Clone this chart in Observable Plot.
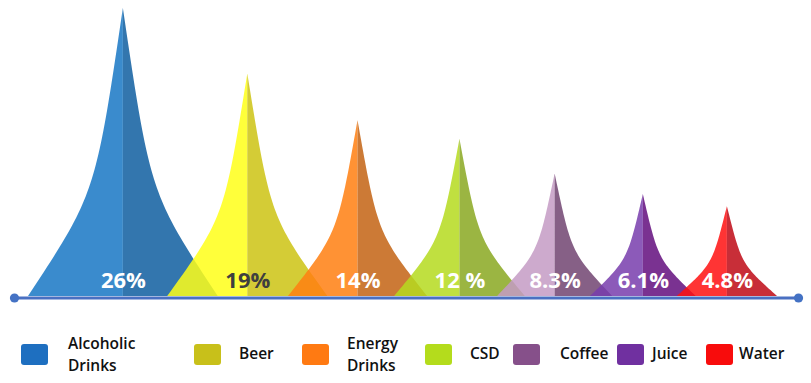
<!DOCTYPE html>
<html>
<head>
<meta charset="utf-8">
<script src="https://cdn.jsdelivr.net/npm/d3@7"></script>
<script src="https://cdn.jsdelivr.net/npm/@observablehq/plot@0.6"></script>
<style>
  html, body { margin: 0; padding: 0; background: #ffffff; }
  #wrap { width: 811px; height: 383px; position: relative; overflow: hidden; font-family: "Open Sans", sans-serif; }
  #legend { position: relative; width: 811px; height: 73px; }
  .sw { position: absolute; width: 27px; height: 21px; border-radius: 3px; top: 34px; }
  .lt { position: absolute; top: 44px; transform: translateY(-50%); font-size: 15.5px; font-weight: 600; line-height: 21.5px; color: #111; white-space: nowrap; }
</style>
</head>
<body>
<div id="wrap">
  <div id="chart"></div>
  <div id="legend"></div>
</div>
<script>
// ---------- data ----------
const categories = ["Alcoholic Drinks", "Beer", "Energy Drinks", "CSD", "Coffee", "Juice", "Water"];
const shares = [26, 19, 14, 12, 8.3, 6.1, 4.8];
const labels = ["26%", "19%", "14%", "12 %", "8.3%", "6.1%", "4.8%"];

// ---------- styles ----------
const lightColors = ["#3a8bcd", "#ffff3a", "#ff9235", "#c0e040", "#cdaacd", "#8c5ab9", "#ff3434"];
const darkColors  = ["#3376ae", "#d4cc36", "#cc7a36", "#9bb542", "#866086", "#7a3291", "#c82e38"];
const legendColors = ["#1e6fc0", "#c8c01a", "#ff7a12", "#b4dc1c", "#86508a", "#7030a0", "#f80c0c"];
const labelColors = ["#ffffff", "#3f3f3f", "#ffffff", "#ffffff", "#ffffff", "#ffffff", "#ffffff"];
const legendSwatchX = [21, 194, 302, 425, 513, 617, 706];
const legendTextX = [68, 239, 347, 470, 560, 652, 739];
const alpha = 0.85;

// colour that shows the target colour on white when drawn at the given opacity
function onWhite(hex, a) {
  const c = d3.rgb(hex);
  const f = v => Math.max(0, Math.min(255, Math.round((v - (1 - a) * 255) / a)));
  return d3.rgb(f(c.r), f(c.g), f(c.b)).formatHex();
}

// ---------- layout (derived from the shares) ----------
const base = -4.81;                          // value at the baseline of the y scale
const halfWidth = v => 40 + 2.11 * v;        // half of the base width of a spike
const gap = (a, b) => 71.15 + 1.184 * (a + b); // distance between neighbouring peaks
const centers = [];
shares.forEach((v, i) => {
  centers.push(i === 0 ? halfWidth(v) : centers[i - 1] + gap(shares[i - 1], v));
});
const xLeft = -14, xRight = centers[centers.length - 1] + halfWidth(shares[shares.length - 1]) + 21;

// concave spike outline: cubic Bezier from base corner to peak
function half(i, side) {
  const v = shares[i], c = centers[i], hw = halfWidth(v);
  const P0 = [1, 0], P1 = [0.29, 0.355], P2 = [0.29, 0.355], P3 = [0, 1];
  const pts = [];
  const N = 48;
  for (let k = 0; k <= N; k++) {
    const s = k / N, m = 1 - s;
    const b0 = m * m * m, b1 = 3 * m * m * s, b2 = 3 * m * s * s, b3 = s * s * s;
    const f = b0 * P0[0] + b1 * P1[0] + b2 * P2[0] + b3 * P3[0];
    const t = b0 * P0[1] + b1 * P1[1] + b2 * P2[1] + b3 * P3[1];
    pts.push({x: c + side * f * hw, y: base + t * (v - base)});
  }
  return pts.sort((p, q) => p.x - q.x);
}

const marks = [];
categories.forEach((cat, i) => {
  marks.push(Plot.areaY(half(i, -1), {x: "x", y1: base, y2: "y", fill: onWhite(lightColors[i], alpha), fillOpacity: alpha}));
  marks.push(Plot.areaY(half(i, 1), {x: "x", y1: base, y2: "y", fill: onWhite(darkColors[i], alpha), fillOpacity: alpha}));
});

const rows = categories.map((c, i) => ({category: c, share: shares[i], label: labels[i], x: centers[i], color: labelColors[i]}));

marks.push(Plot.ruleY([base], {x1: xLeft, x2: xRight, dy: 1.5, stroke: "#4a70c2", strokeWidth: 3}));
marks.push(Plot.dot([xLeft, xRight], {x: d => d, y: base, dy: 1.5, r: 4.6, fill: "#4472c4", stroke: "none"}));
marks.push(Plot.text(rows, {x: "x", y: base, dy: -16, text: "label", fill: d => d.color, fontSize: 22, fontWeight: 700, fontFamily: "Open Sans, sans-serif"}));

const chart = Plot.plot({
  width: 811,
  height: 310,
  marginLeft: 0,
  marginRight: 0,
  marginTop: 0,
  marginBottom: 14,
  x: {domain: [-28, 783], axis: null},
  y: {domain: [base, 26.85], axis: null},
  color: {type: "identity"},
  style: {background: "transparent", overflow: "visible"},
  marks
});
document.getElementById("chart").appendChild(chart);

// ---------- legend ----------
const legend = document.getElementById("legend");
categories.forEach((cat, i) => {
  const sw = document.createElement("div");
  sw.className = "sw";
  sw.style.left = legendSwatchX[i] + "px";
  sw.style.background = legendColors[i];
  legend.appendChild(sw);
  const t = document.createElement("div");
  t.className = "lt";
  t.style.left = legendTextX[i] + "px";
  t.innerHTML = cat.split(" ").join("<br>");
  legend.appendChild(t);
});
</script>
</body>
</html>
